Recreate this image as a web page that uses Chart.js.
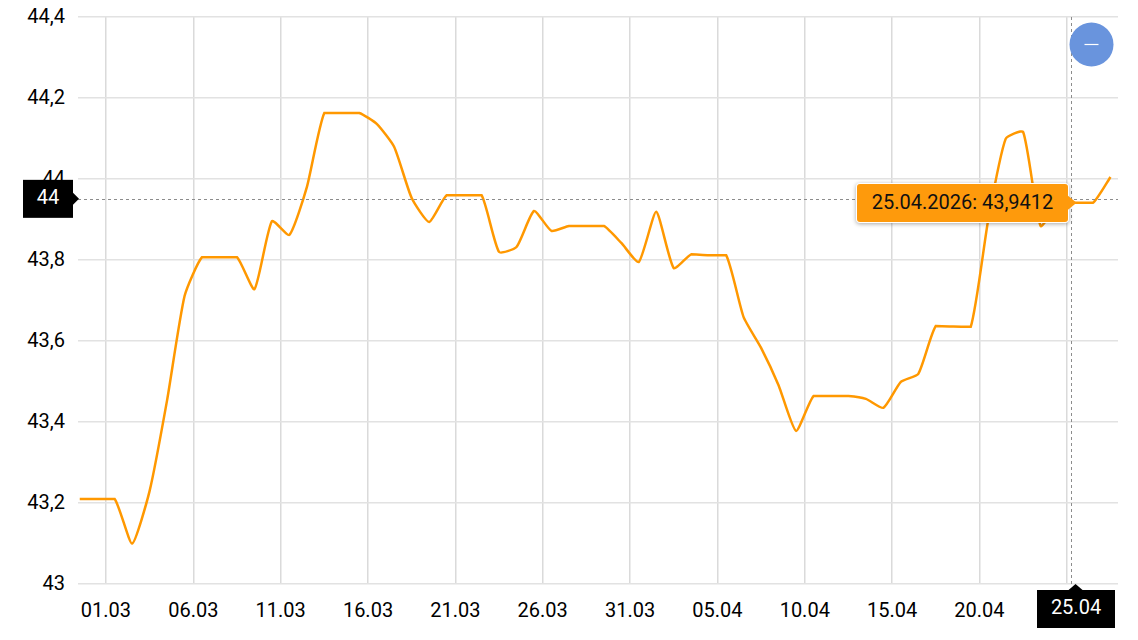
<!DOCTYPE html>
<html>
<head>
<meta charset="utf-8">
<title>Kurs</title>
<script src="https://cdn.jsdelivr.net/npm/chart.js@4"></script>
<style>
    html, body { margin: 0; padding: 0; background: #fff; }
    #kurs { display: block; }
</style>
</head>
<body>
<canvas id="kurs" width="1138" height="640"></canvas>
<script>
const tickLabels = ['01.03', '06.03', '11.03', '16.03', '21.03', '26.03', '31.03', '05.04', '10.04', '15.04', '20.04', '25.04'];
const tickDays = [0, 5, 10, 15, 20, 25, 30, 35, 40, 45, 50, 55];
const yTicks = [43, 43.2, 43.4, 43.6, 43.8, 44, 44.2, 44.4];

const values = [
    43.21, 43.21, 43.21, 43.10, 43.23, 43.454, 43.711, 43.807, 43.807, 43.807,
    43.728, 43.896, 43.862, 43.98, 44.163, 44.163, 44.163, 44.136, 44.079, 43.953,
    43.894, 43.96, 43.96, 43.96, 43.82, 43.832, 43.921, 43.872, 43.884, 43.884,
    43.884, 43.842, 43.795, 43.919, 43.78, 43.814, 43.812, 43.812, 43.659, 43.583,
    43.491, 43.378, 43.464, 43.464, 43.464, 43.457, 43.435, 43.499, 43.519, 43.637,
    43.636, 43.635, 43.899, 44.099, 44.116, 43.884, 43.938, 43.9412, 43.9412, 44.005
];
// first point sits a day and a half before the 01.03 tick
const FIRST_DAY = -1.5;

const ACTIVE_INDEX = 57;
const ACTIVE_LABEL = '25.04.2026: 43,9412';
const CURSOR_DAY = 55.25;
const CURSOR_VALUE = 43.951;
const CURSOR_Y_LABEL = '44';
const CURSOR_X_LABEL = '25.04';

const FONT = '20px Roboto';
const ORANGE = '#ff9800';

const formatValue = (v) => String(Math.round(v * 10) / 10).replace('.', ',');

const background = {
    id: 'background',
    beforeDraw(chart) {
        chart.ctx.save();
        chart.ctx.fillStyle = '#fff';
        chart.ctx.fillRect(0, 0, chart.width, chart.height);
        chart.ctx.restore();
    }
};

// keeps the flat stretches flat, the bezier handles would bump over them
const flatSegments = {
    id: 'flatSegments',
    beforeDatasetsDraw(chart) {
        const meta = chart.getDatasetMeta(0);
        meta.dataset.updateControlPoints(chart.chartArea, 'x');
        const points = meta.data;
        points.forEach((point, i) => {
            const next = points[i + 1];
            if (next && Math.abs(point.y - next.y) < 1.5) {
                point.cp2y = point.y;
                next.cp1y = next.y;
            }
        });
    }
};

const overlay = {
    id: 'overlay',
    afterDraw(chart) {
        const { ctx, scales: { x, y }, chartArea: area } = chart;
        const cx = x.getPixelForValue(CURSOR_DAY);
        const cy = y.getPixelForValue(CURSOR_VALUE);

        ctx.save();
        // crosshair
        ctx.strokeStyle = '#8c8c8c';
        ctx.lineWidth = 1;
        ctx.setLineDash([3, 3]);
        ctx.beginPath();
        ctx.moveTo(area.left, Math.round(cy) + 0.5);
        ctx.lineTo(area.right, Math.round(cy) + 0.5);
        ctx.moveTo(Math.round(cx) + 0.5, area.top);
        ctx.lineTo(Math.round(cx) + 0.5, area.bottom);
        ctx.stroke();
        ctx.setLineDash([]);

        ctx.font = FONT;
        ctx.textBaseline = 'middle';
        ctx.textAlign = 'center';

        // black label on the value axis
        ctx.fillStyle = '#000';
        ctx.fillRect(23, cy - 19, 50, 38);
        ctx.beginPath();
        ctx.moveTo(73, cy - 6);
        ctx.lineTo(79, cy);
        ctx.lineTo(73, cy + 6);
        ctx.fill();
        ctx.fillStyle = '#fff';
        ctx.fillText(CURSOR_Y_LABEL, 48, cy + 0.5);

        // black label on the date axis
        const tip = x.getPixelForValue(ACTIVE_INDEX + FIRST_DAY);
        ctx.fillStyle = '#000';
        ctx.fillRect(1037, area.bottom + 6, 78, 38);
        ctx.beginPath();
        ctx.moveTo(tip - 7, area.bottom + 6);
        ctx.lineTo(tip, area.bottom);
        ctx.lineTo(tip + 7, area.bottom + 6);
        ctx.fill();
        ctx.fillStyle = '#fff';
        ctx.fillText(CURSOR_X_LABEL, 1076, area.bottom + 24.5);

        // orange tooltip
        const py = y.getPixelForValue(values[ACTIVE_INDEX]);
        const bx = 857, by = 184, bw = 211, bh = 38;
        ctx.shadowColor = 'rgba(0,0,0,0.35)';
        ctx.shadowBlur = 4;
        ctx.shadowOffsetY = 1;
        ctx.fillStyle = '#fff';
        ctx.beginPath();
        ctx.roundRect(bx - 1, by - 1, bw + 2, bh + 2, 4);
        ctx.fill();
        ctx.shadowColor = 'transparent';
        ctx.fillStyle = '#fe9a0c';
        ctx.beginPath();
        ctx.roundRect(bx, by, bw, bh, 3);
        ctx.fill();
        ctx.beginPath();
        ctx.moveTo(bx + bw, py - 7);
        ctx.lineTo(tip + 1, py);
        ctx.lineTo(bx + bw, py + 7);
        ctx.fill();
        ctx.fillStyle = '#111';
        ctx.fillText(ACTIVE_LABEL, bx + bw / 2, by + bh / 2 + 1);

        // zoom-out button
        ctx.fillStyle = '#6994dd';
        ctx.beginPath();
        ctx.arc(1091.5, 44.5, 22, 0, Math.PI * 2);
        ctx.fill();
        ctx.strokeStyle = '#fff';
        ctx.lineWidth = 1.2;
        ctx.beginPath();
        ctx.moveTo(1084.5, 44.5);
        ctx.lineTo(1098.5, 44.5);
        ctx.stroke();
        ctx.restore();
    }
};

Chart.defaults.font.family = 'Roboto';

new Chart(document.getElementById('kurs').getContext('2d', { alpha: false }), {
    type: 'line',
    data: {
        datasets: [{
            data: values.map((v, i) => ({ x: i + FIRST_DAY, y: v })),
            borderColor: ORANGE,
            borderWidth: 2.5,
            pointRadius: 0,
            tension: 0.18,
            fill: false
        }]
    },
    options: {
        responsive: false,
        animation: false,
        layout: { padding: { top: 17, right: 20, left: 0, bottom: 0 } },
        plugins: { legend: { display: false }, tooltip: { enabled: false } },
        scales: {
            x: {
                type: 'linear',
                min: -1.6,
                max: 57.93,
                afterBuildTicks: (axis) => { axis.ticks = tickDays.map(value => ({ value })); },
                afterFit: (axis) => {
                    axis.height = 56;
                    axis.paddingLeft = 0;
                    axis.paddingRight = 0;
                },
                border: { display: false },
                grid: { color: '#dadada', lineWidth: 1.5, drawTicks: false },
                ticks: {
                    autoSkip: false,
                    maxRotation: 0,
                    padding: 16,
                    color: '#000',
                    font: { size: 20 },
                    callback: (value) => tickLabels[tickDays.indexOf(value)]
                }
            },
            y: {
                min: 43,
                max: 44.4,
                afterBuildTicks: (axis) => { axis.ticks = yTicks.map(value => ({ value })); },
                afterFit: (axis) => {
                    axis.width = 78;
                    axis.paddingTop = 0;
                    axis.paddingBottom = 0;
                },
                border: { display: false },
                grid: { color: '#e2e2e2', lineWidth: 1.5, drawTicks: false },
                ticks: {
                    padding: 13,
                    labelOffset: 1,
                    color: '#000',
                    font: { size: 20 },
                    callback: formatValue
                }
            }
        }
    },
    plugins: [background, flatSegments, overlay]
});
</script>
</body>
</html>
